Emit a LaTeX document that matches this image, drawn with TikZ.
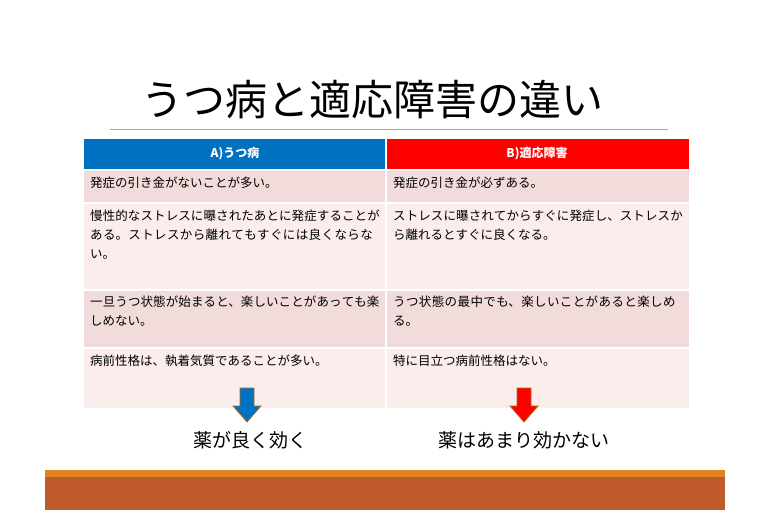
\documentclass[tikz,border=0pt]{standalone}
\usepackage{fontspec}
\setmainfont{Noto Sans CJK JP}
\XeTeXlinebreaklocale "ja"
\XeTeXlinebreakskip=0pt plus 1pt
\definecolor{hdblue}{HTML}{0070C0}
\definecolor{rowdark}{HTML}{F2DCDB}
\definecolor{rowlight}{HTML}{FAEDEB}
\definecolor{barbrown}{HTML}{BE5A2C}
\definecolor{barorange}{HTML}{E0821E}
\tikzset{
  cell/.style={anchor=north west,text width=292pt,align=left,inner sep=0pt,
    font=\fontsize{12.5}{19}\selectfont},
  head/.style={text=white,font=\fontsize{12}{14}\selectfont\bfseries},
  down/.style={draw=barorange!80!black,line width=.8pt,line join=miter},
  result/.style={font=\fontsize{19}{22}\selectfont}
}
\newcommand\resultarrow[3]{% x, top, colour
  \filldraw[down,fill=#3] (#1-7,#2) -- (#1+7,#2) -- (#1+7,#2+18) -- (#1+14,#2+18)
    -- (#1,#2+34) -- (#1-14,#2+18) -- (#1-7,#2+18) -- cycle;}
\begin{document}
\begin{tikzpicture}[x=1pt,y=-1pt]
  \useasboundingbox[fill=white] (0,0) rectangle (770,510);
  % title
  \node (title) at (372,100) {\fontsize{42}{44}\selectfont うつ病と適応障害の違い};
  \draw[gray!70,line width=.8pt] (110,129) -- (668,129);
  % header
  \fill[hdblue] (84,139) rectangle (386,170);
  \fill[red] (386,139) rectangle (689,170);
  \node[head] (ha) at (235,154) {A)うつ病};
  \node[head] (hb) at (537,154) {B)適応障害};
  % rows
  \foreach \ya/\yb/\c in {170/203/rowdark,203/290/rowlight,290/348/rowdark,348/408/rowlight}
    \fill[\c] (84,\ya) rectangle (689,\yb);
  \foreach \y in {170,203,290,348}
    \draw[white,line width=1.2pt] (84,\y) -- (689,\y);
  \draw[white,line width=1.2pt] (386,139) -- (386,408);
  \node[cell] (a1) at (90,177) {発症の引き金がないことが多い。};
  \node[cell] (b1) at (393,177) {発症の引き金が必ずある。};
  \node[cell] (a2) at (90,210) {慢性的なストレスに曝されたあとに発症することがある。ストレスから離れてもすぐには良くならない。};
  \node[cell] (b2) at (393,210) {ストレスに曝されてからすぐに発症し、ストレスから離れるとすぐに良くなる。};
  \node[cell] (a3) at (90,296) {一旦うつ状態が始まると、楽しいことがあっても楽しめない。};
  \node[cell] (b3) at (393,296) {うつ状態の最中でも、楽しいことがあると楽しめる。};
  \node[cell,text width=305pt] (a4) at (90,355) {病前性格は、執着気質であることが多い。};
  \node[cell] (b4) at (393,355) {特に目立つ病前性格はない。};
  % arrows and results
  \resultarrow{247}{388}{hdblue}
  \resultarrow{524}{388}{red}
  \node[result] (ra) at (250,440) {薬が良く効く};
  \node[result] (rb) at (524,440) {薬はあまり効かない};
  % bottom bar
  \fill[barorange] (45,470) rectangle (725,477);
  \fill[barbrown] (45,477) rectangle (725,510);
\end{tikzpicture}
\end{document}
